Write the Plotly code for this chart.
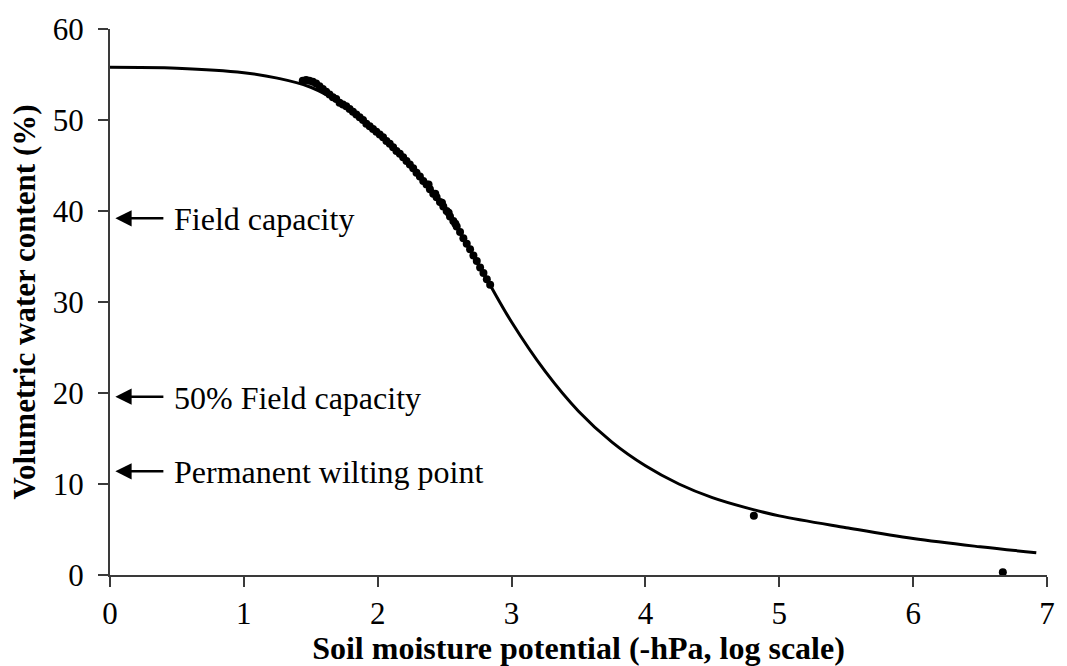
import plotly.graph_objects as go

# Fitted water-retention curve (x = log10 of suction in hPa)
fit_log_h = [0, 0.5, 1.0, 1.25, 1.5, 1.75, 2.0, 2.25, 2.5, 2.75, 3.0, 3.25,
             3.5, 3.75, 4.0, 4.25, 4.5, 4.75, 5.0, 5.5, 6.0, 6.5, 6.92]
fit_theta = [55.8, 55.7, 55.2, 54.6, 53.6, 51.6, 48.6, 44.9, 40.4, 34.2, 27.8, 22.4,
             18.0, 14.6, 12.0, 10.0, 8.5, 7.4, 6.5, 5.2, 4.0, 3.1, 2.45]

# Measured points
obs_log_h = [1.44, 1.465, 1.49, 1.515, 1.54, 1.565, 1.59, 1.615, 1.64, 1.665,
             1.69, 1.715, 1.74, 1.765, 1.79, 1.815, 1.84, 1.865, 1.89, 1.915,
             1.94, 1.965, 1.99, 2.015, 2.04, 2.065, 2.09, 2.115, 2.14, 2.165,
             2.19, 2.215, 2.24, 2.265, 2.29, 2.315, 2.34, 2.365, 2.39, 2.415,
             2.44, 2.465, 2.49, 2.515, 2.54, 2.565, 2.59, 2.615, 2.64, 2.665,
             2.69, 2.715, 2.74, 2.765, 2.79, 2.815, 2.84,
             2.38, 2.43, 2.48, 2.53, 2.58,
             4.81, 6.67]
obs_theta = [54.3, 54.4, 54.3, 54.2, 54.0, 53.7, 53.4, 53.1, 52.8, 52.5,
             52.3, 51.9, 51.7, 51.5, 51.2, 50.9, 50.6, 50.3, 50.0, 49.6,
             49.3, 49.0, 48.7, 48.4, 48.1, 47.7, 47.4, 47.0, 46.6, 46.3,
             45.9, 45.5, 45.1, 44.7, 44.2, 43.8, 43.3, 42.9, 42.4, 41.9,
             41.5, 41.0, 40.5, 40.0, 39.4, 38.9, 38.3, 37.7, 37.0, 36.4,
             35.8, 35.1, 34.5, 33.8, 33.2, 32.5, 31.9,
             42.9, 41.9, 40.9, 39.8, 38.6,
             6.5, 0.3]

# Reference levels marked with arrows
level_names = ["Field capacity", "50% Field capacity", "Permanent wilting point"]
level_theta = [39.2, 19.6, 11.4]

x_ticks = [0, 1, 2, 3, 4, 5, 6, 7]
y_ticks = [0, 10, 20, 30, 40, 50, 60]

serif = "Times New Roman, Liberation Serif, serif"
ink = "#000000"
axis_col = "#3a3a3a"

fig = go.Figure()

fig.add_trace(go.Scatter(
    x=fit_log_h, y=fit_theta, mode="lines",
    line=dict(color=ink, width=3, shape="spline", smoothing=1.0),
    showlegend=False, hoverinfo="skip",
))

fig.add_trace(go.Scatter(
    x=obs_log_h, y=obs_theta, mode="markers",
    marker=dict(color=ink, size=8, symbol="circle"),
    showlegend=False,
))

for name, lvl in zip(level_names, level_theta):
    fig.add_annotation(
        x=0.04, y=lvl, ax=0.41, ay=lvl,
        xref="x", yref="y", axref="x", ayref="y",
        showarrow=True, arrowhead=2, arrowsize=1.3, arrowwidth=2.5,
        arrowcolor=ink, text="",
    )
    fig.add_annotation(
        x=0.46, y=lvl, xref="x", yref="y", text=name, showarrow=False,
        xanchor="left", yanchor="middle", yshift=-1,
        font=dict(family=serif, size=32, color=ink),
    )

fig.update_layout(
    width=1067, height=666,
    margin=dict(l=110, r=13, t=23, b=87),
    paper_bgcolor="white", plot_bgcolor="white",
    font=dict(family=serif, color=ink),
)

fig.update_xaxes(
    range=[0, 7], tickvals=x_ticks, ticktext=[str(v) for v in x_ticks],
    showgrid=False, zeroline=False,
    showline=True, linecolor=axis_col, linewidth=2,
    ticks="outside", ticklen=10, tickwidth=2, tickcolor=axis_col,
    tickfont=dict(family=serif, size=31, color=ink),
    title=dict(text="<b>Soil moisture potential (-hPa, log scale)</b>",
               font=dict(family=serif, size=32, color=ink), standoff=0),
)

fig.update_yaxes(
    range=[0, 60], tickvals=y_ticks, ticktext=[str(v) for v in y_ticks],
    showgrid=False, zeroline=False,
    showline=True, linecolor=axis_col, linewidth=2,
    ticks="outside", ticklen=10, tickwidth=2, tickcolor=axis_col,
    tickfont=dict(family=serif, size=31, color=ink), ticklabelstandoff=8,
    title=dict(text="<b>Volumetric water content (%)</b>",
               font=dict(family=serif, size=31, color=ink), standoff=8),
)

fig.write_html("out.html")
